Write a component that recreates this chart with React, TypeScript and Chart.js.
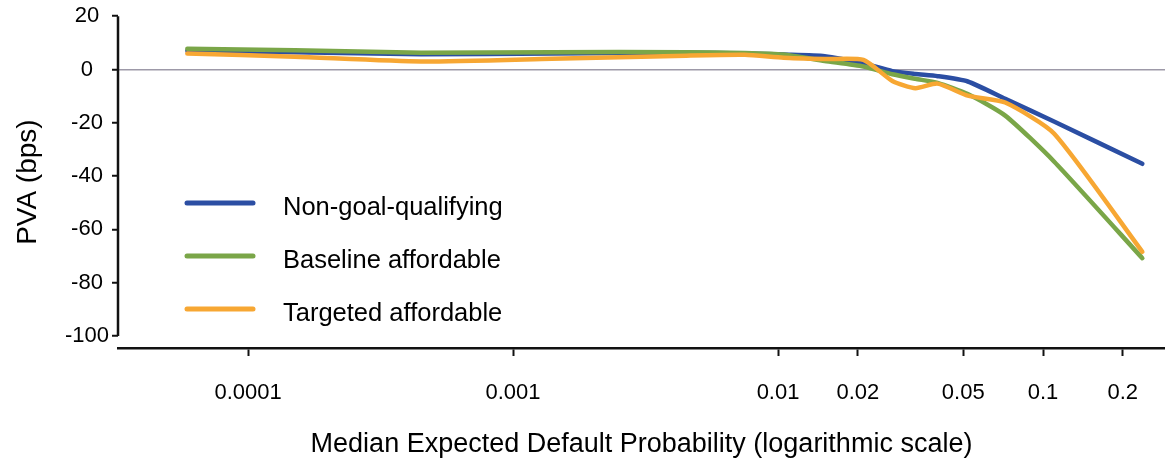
import React, { useEffect, useRef } from "react";
import { Chart, registerables } from "chart.js";

Chart.register(...registerables);

// Median expected default probability (x, log scale)
const xValues = [5.9e-5, 1.5e-4, 4.5e-4, 1.4e-3, 4.5e-3, 7.5e-3, 0.0105, 0.015, 0.021, 0.027, 0.033, 0.04, 0.052, 0.072, 0.11, 0.237];
// PVA (bps) per series
const nonGoalQualifying = [7.0, 6.5, 5.7, 6.0, 6.3, 6.0, 5.6, 5.0, 2.3, -0.6, -1.7, -2.5, -4.5, -11.0, -19.5, -35.4];
const baselineAffordable = [7.8, 7.2, 6.3, 6.5, 6.5, 6.2, 5.6, 3.2, 1.1, -1.8, -3.5, -5.0, -9.2, -17.3, -34.5, -70.8];
const targetedAffordable = [6.0, 4.8, 3.0, 4.0, 5.2, 5.5, 4.4, 3.9, 3.6, -4.3, -7.0, -5.3, -9.8, -12.4, -24.0, -68.4];

const seriesNames = ["Non-goal-qualifying", "Baseline affordable", "Targeted affordable"];
const seriesColors = ["#2b4ea3", "#7aa648", "#f7a733"];

const xTicks = [0.0001, 0.001, 0.01, 0.02, 0.05, 0.1, 0.2];
const xTickLabels = ["0.0001", "0.001", "0.01", "0.02", "0.05", "0.1", "0.2"];
const yTicks = [20, 0, -20, -40, -60, -80, -100];

const X_MIN = 3.23e-5;
const X_MAX = 0.2886;
const Y_MIN = -104.5;
const Y_MAX = 20;

const FONT = "'Liberation Sans', Arial, Helvetica, sans-serif";
const TEXT = "#000";

const legendAndAxisPlugin = {
  id: "legendAndAxis",
  afterDraw(chart: any) {
    const { ctx, chartArea, scales } = chart;
    const y = scales.y;
    ctx.save();
    // y axis line from 20 to -100
    ctx.strokeStyle = "#111";
    ctx.lineWidth = 2.5;
    ctx.beginPath();
    ctx.moveTo(chartArea.left, y.getPixelForValue(Y_MAX));
    ctx.lineTo(chartArea.left, y.getPixelForValue(-100));
    ctx.stroke();

    // legend
    const x0 = chartArea.left + 69;
    const x1 = chartArea.left + 135;
    const tx = chartArea.left + 165;
    const rows = [203, 256, 309];
    ctx.font = `25.5px ${FONT}`;
    ctx.textBaseline = "alphabetic";
    ctx.textAlign = "left";
    seriesNames.forEach((name, i) => {
      ctx.strokeStyle = seriesColors[i];
      ctx.lineWidth = 5;
      ctx.lineCap = "round";
      ctx.beginPath();
      ctx.moveTo(x0, rows[i]);
      ctx.lineTo(x1, rows[i]);
      ctx.stroke();
      ctx.fillStyle = TEXT;
      ctx.fillText(name, tx, rows[i] + 12);
    });
    ctx.restore();
  },
};

export default function App() {
  const canvasRef = useRef<HTMLCanvasElement | null>(null);

  useEffect(() => {
    if (!canvasRef.current) return;
    const mk = (vals: number[]) => xValues.map((x, i) => ({ x, y: vals[i] }));
    const allSeries = [nonGoalQualifying, baselineAffordable, targetedAffordable];
    const orders = [3, 2, 1];
    const chart = new Chart(canvasRef.current, {
      type: "line",
      data: {
        datasets: allSeries.map((vals, i) => ({
          label: seriesNames[i],
          data: mk(vals),
          borderColor: seriesColors[i],
          backgroundColor: seriesColors[i],
          borderWidth: 4.5,
          pointRadius: 0,
          fill: false,
          tension: 0.2,
          borderCapStyle: "round" as const,
          borderJoinStyle: "round" as const,
          order: orders[i],
        })),
      },
      options: {
        animation: false,
        responsive: false,
        layout: { padding: { top: 14, right: 0, left: 0, bottom: 0 } },
        plugins: {
          legend: { display: false },
          tooltip: { enabled: false },
        },
        scales: {
          x: {
            type: "logarithmic",
            min: X_MIN,
            max: X_MAX,
            afterBuildTicks: (axis: any) => {
              axis.ticks = xTicks.map((v) => ({ value: v }));
            },
            afterFit: (s: any) => {
              s.height = 115;
            },
            ticks: {
              autoSkip: false,
              maxRotation: 0,
              padding: 24,
              color: TEXT,
              font: { family: FONT, size: 22 },
              callback: (v: any) => {
                const idx = xTicks.findIndex((t) => Math.abs(t - Number(v)) / t < 1e-6);
                return idx >= 0 ? xTickLabels[idx] : "";
              },
            },
            grid: {
              display: true,
              drawOnChartArea: false,
              color: "transparent",
              tickColor: "#111",
              tickLength: 8,
              tickWidth: 2,
            },
            border: { display: true, color: "#111", width: 2.5 },
            title: {
              display: true,
              text: "Median Expected Default Probability (logarithmic scale)",
              color: TEXT,
              font: { family: FONT, size: 27 },
              padding: { top: 0, bottom: 2 },
            },
          },
          y: {
            type: "linear",
            min: Y_MIN,
            max: Y_MAX,
            afterBuildTicks: (axis: any) => {
              axis.ticks = yTicks.map((v) => ({ value: v }));
            },
            afterFit: (s: any) => {
              s.width = 118;
            },
            ticks: {
              autoSkip: false,
              padding: 3,
              crossAlign: "center",
              color: TEXT,
              font: { family: FONT, size: 22 },
            },
            grid: {
              display: true,
              color: (c: any) => (c.tick && c.tick.value === 0 ? "#9d99a8" : "transparent"),
              lineWidth: 1.5,
              tickColor: "#111",
              tickLength: 6,
              tickWidth: 2,
            },
            border: { display: false },
            title: {
              display: true,
              text: "PVA (bps)",
              color: TEXT,
              font: { family: FONT, size: 28 },
              padding: { top: 11, bottom: 10 },
            },
          },
        },
      },
      plugins: [legendAndAxisPlugin],
    });
    return () => chart.destroy();
  }, []);

  return (
    <div style={{ position: "absolute", left: 0, top: 0, width: 1165, height: 463, background: "#fff" }}>
      <canvas ref={canvasRef} width={1165} height={463} />
    </div>
  );
}
